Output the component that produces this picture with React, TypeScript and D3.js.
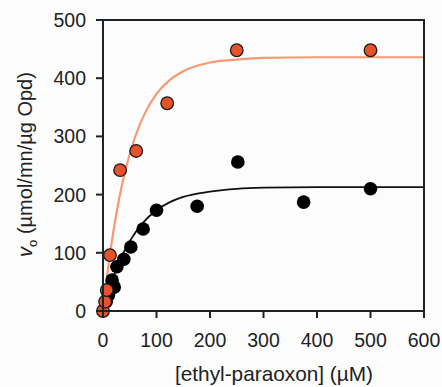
import React from "react";
import * as d3 from "d3";

const xTicks = [0, 100, 200, 300, 400, 500, 600];
const yTicks = [0, 100, 200, 300, 400, 500];

// measured points: [ethyl-paraoxon] (µM), vo
const orangeX = [0, 4, 7, 13, 32, 62, 120, 250, 500];
const orangeY = [0, 16, 36, 96, 242, 275, 357, 448, 448];
const blackX = [6, 10, 21, 17, 26, 39, 52, 75, 100, 176, 252, 375, 500];
const blackY = [16, 27, 41, 53, 76, 89, 110, 141, 173, 180, 256, 187, 210];

// fitted curves
const orangeFitX = [0, 10, 20, 30, 40, 60, 80, 100, 125, 150, 200, 250, 300, 400, 600];
const orangeFitY = [0, 77, 140, 192, 235, 299, 343, 373, 397, 412, 427, 432, 435, 436, 436];
const blackFitX = [0, 10, 20, 30, 50, 75, 100, 125, 150, 200, 250, 300, 400, 600];
const blackFitY = [0, 33, 60, 84, 120, 152, 173, 187, 196, 205, 210, 212, 213, 213];

const W = 442;
const H = 387;
const left = 103, right = 424, top = 20, bottom = 311;

export default function App() {
  const x = d3.scaleLinear().domain([0, 600]).range([left, right]);
  const y = d3.scaleLinear().domain([0, 500]).range([bottom, top]);
  const line = d3
    .line<[number, number]>()
    .x((d) => x(d[0]))
    .y((d) => y(d[1]))
    .curve(d3.curveMonotoneX);
  const oFit = orangeFitX.map((v, i) => [v, orangeFitY[i]] as [number, number]);
  const bFit = blackFitX.map((v, i) => [v, blackFitY[i]] as [number, number]);
  const font = "Liberation Sans, Arial, Helvetica, sans-serif";
  const axisColor = "#1e2328";
  return (
    <svg
      width={W}
      height={H}
      style={{ position: "absolute", left: 0, top: 0, background: "#fcfcfd" }}
      fontFamily={font}
    >
      <rect x={0} y={0} width={W} height={H} fill="#fcfcfd" />
      <path d={line(bFit) || ""} fill="none" stroke="#111" strokeWidth={1.8} />
      <path d={line(oFit) || ""} fill="none" stroke="#f59a72" strokeWidth={2.2} />
      {blackX.map((v, i) => (
        <circle key={"b" + i} cx={x(v)} cy={y(blackY[i])} r={6.8} fill="#000" />
      ))}
      {orangeX.map((v, i) => (
        <circle
          key={"o" + i}
          cx={x(v)}
          cy={y(orangeY[i])}
          r={6.3}
          fill="#e8522a"
          stroke="#1a1a1a"
          strokeWidth={1.3}
        />
      ))}
      {/* frame */}
      <rect
        x={left}
        y={top}
        width={right - left}
        height={bottom - top}
        fill="none"
        stroke={axisColor}
        strokeWidth={2}
      />
      {yTicks.map((t) => (
        <g key={"y" + t}>
          <line x1={left - 7} x2={left} y1={y(t)} y2={y(t)} stroke={axisColor} strokeWidth={2} />
          <text x={left - 17} y={y(t)} dy="0.36em" textAnchor="end" fontSize={19.5} fill="#222">
            {t}
          </text>
        </g>
      ))}
      {xTicks.map((t) => (
        <g key={"x" + t}>
          <line x1={x(t)} x2={x(t)} y1={bottom} y2={bottom + 7} stroke={axisColor} strokeWidth={2} />
          <text x={x(t)} y={347} textAnchor="middle" fontSize={19.5} fill="#222">
            {t}
          </text>
        </g>
      ))}
      <text x={274} y={381} textAnchor="middle" fontSize={20.8} fill="#222">
        [ethyl-paraoxon] (µM)
      </text>
      <text
        transform={`translate(32, ${(top + bottom) / 2 - 1}) rotate(-90)`}
        textAnchor="middle"
        fontSize={20}
        fill="#222"
      >
        <tspan fontStyle="italic">v</tspan>
        <tspan fontSize={13} dy={5}>o</tspan>
        <tspan dy={-5}> (µmol/mn/µg Opd)</tspan>
      </text>
    </svg>
  );
}
